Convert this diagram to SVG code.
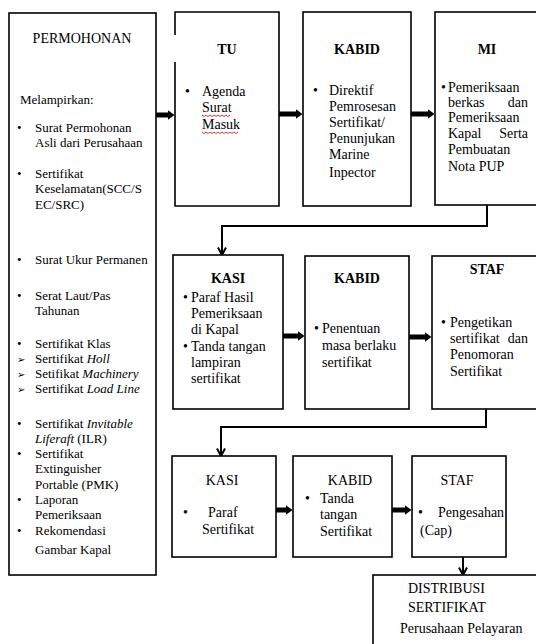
<svg xmlns="http://www.w3.org/2000/svg" width="536" height="644" viewBox="0 0 536 644" font-family="'Liberation Serif', 'DejaVu Serif', serif">
<style>
.box{fill:#fff;stroke:#000;stroke-width:1.6}
text{font-family:'Liberation Serif','DejaVu Serif',serif;fill:#000}
.t{font-size:13px}
.u{font-size:14px}
.h{font-size:14px;font-weight:bold;text-anchor:middle}
.hr{font-size:14px;text-anchor:middle}
.e{text-anchor:end}
.i{font-style:italic}
text.sym{font-family:'DejaVu Sans',sans-serif;font-size:10px}
.thick{stroke:#000;stroke-width:5;fill:none}
.thin{stroke:#000;stroke-width:2;fill:none}
.wave{stroke:#d00;stroke-width:0.8;fill:none}
</style>
<defs>
<marker id="ah" markerUnits="userSpaceOnUse" markerWidth="7" markerHeight="10" viewBox="0 0 7 10" refX="0.5" refY="5" orient="auto">
<path d="M0,0 L7,5 L0,10 z" fill="#000"/>
</marker>
<marker id="vh" markerUnits="userSpaceOnUse" markerWidth="10" markerHeight="10" viewBox="0 0 10 10" refX="8.5" refY="5" orient="auto">
<path d="M1,1 L8.5,5 L1,9" fill="none" stroke="#000" stroke-width="2"/>
</marker>
</defs>
<rect width="536" height="644" fill="#fff"/>

<g id="connectors">
<line class="thick" x1="156" y1="115" x2="168" y2="115" marker-end="url(#ah)"/>
<line class="thick" x1="279" y1="114" x2="296" y2="114" marker-end="url(#ah)"/>
<line class="thick" x1="411" y1="114" x2="428" y2="114" marker-end="url(#ah)"/>
<polyline class="thin" points="487,205 487,226 222,226 222,255" marker-end="url(#vh)"/>
<line class="thick" x1="283" y1="336" x2="298" y2="336" marker-end="url(#ah)"/>
<line class="thick" x1="409" y1="337" x2="425" y2="337" marker-end="url(#ah)"/>
<polyline class="thin" points="486,409 486,427 221,427 221,456" marker-end="url(#vh)"/>
<line class="thick" x1="276" y1="510" x2="286" y2="510" marker-end="url(#ah)"/>
<line class="thick" x1="392" y1="510" x2="405" y2="510" marker-end="url(#ah)"/>
<line class="thin" x1="463" y1="557" x2="463" y2="575" marker-end="url(#vh)"/>
</g>

<g id="permohonan">
<rect class="box" x="9" y="13" width="147" height="562"/>
<text class="hr" x="82" y="43">PERMOHONAN</text>
<text class="t" x="20" y="104">Melampirkan:</text>
<text class="t" x="17" y="132">•</text>
<text class="t" x="35" y="132">Surat Permohonan</text>
<text class="t" x="35" y="147">Asli dari Perusahaan</text>
<text class="t" x="17" y="178">•</text>
<text class="t" x="35" y="178">Sertifikat</text>
<text class="t" x="35" y="193">Keselamatan(SCC/S</text>
<text class="t" x="35" y="209">EC/SRC)</text>
<text class="t" x="17" y="264">•</text>
<text class="t" x="35" y="264">Surat Ukur Permanen</text>
<text class="t" x="17" y="300">•</text>
<text class="t" x="35" y="300">Serat Laut/Pas</text>
<text class="t" x="35" y="315">Tahunan</text>
<text class="t" x="17" y="348">•</text>
<text class="t" x="35" y="348">Sertifikat Klas</text>
<text class="sym" x="17" y="363">➢</text>
<text class="t" x="35" y="363">Sertifikat <tspan class="i">Holl</tspan></text>
<text class="sym" x="17" y="378">➢</text>
<text class="t" x="35" y="378">Setifikat <tspan class="i">Machinery</tspan></text>
<text class="sym" x="17" y="393">➢</text>
<text class="t" x="35" y="393">Sertifikat <tspan class="i">Load Line</tspan></text>
<text class="t" x="17" y="428">•</text>
<text class="t" x="35" y="428">Sertifikat <tspan class="i">Invitable</tspan></text>
<text class="t" x="35" y="443"><tspan class="i">Liferaft</tspan> (ILR)</text>
<text class="t" x="17" y="458">•</text>
<text class="t" x="35" y="458">Sertifikat</text>
<text class="t" x="35" y="473">Extinguisher</text>
<text class="t" x="35" y="489">Portable (PMK)</text>
<text class="t" x="17" y="504">•</text>
<text class="t" x="35" y="504">Laporan</text>
<text class="t" x="35" y="519">Pemeriksaan</text>
<text class="t" x="17" y="535">•</text>
<text class="t" x="35" y="535">Rekomendasi</text>
<text class="t" x="35" y="554">Gambar Kapal</text>
</g>

<g id="tu">
<rect x="175" y="12" width="104" height="194" fill="#fff"/>
<path class="box" d="M175,35 L175,12 L279,12 L279,206 L175,206 L175,62"/>
<text class="h" x="227" y="54">TU</text>
<text class="u" x="185" y="96">•</text>
<text class="u" x="202" y="96">Agenda</text>
<text class="u" x="202" y="112">Surat</text>
<text class="u" x="202" y="129">Masuk</text>
<path class="wave" d="M202,115 l2,1.5 l2,-1.5 l2,1.5 l2,-1.5 l2,1.5 l2,-1.5 l2,1.5 l2,-1.5 l2,1.5 l2,-1.5 l2,1.5 l2,-1.5 l2,1.5 l2,-1.5"/>
<path class="wave" d="M202,132 l2,1.5 l2,-1.5 l2,1.5 l2,-1.5 l2,1.5 l2,-1.5 l2,1.5 l2,-1.5 l2,1.5 l2,-1.5 l2,1.5 l2,-1.5 l2,1.5 l2,-1.5 l2,1.5 l2,-1.5 l2,1.5 l2,-1.5"/>
</g>

<g id="kabid1">
<rect class="box" x="303" y="12" width="108" height="194"/>
<text class="h" x="357" y="54">KABID</text>
<text class="u" x="313" y="95">•</text>
<text class="u" x="329" y="95">Direktif</text>
<text class="u" x="329" y="111">Pemrosesan</text>
<text class="u" x="329" y="127">Sertifikat/</text>
<text class="u" x="329" y="143">Penunjukan</text>
<text class="u" x="329" y="159">Marine</text>
<text class="u" x="329" y="177">Inpector</text>
</g>

<g id="mi">
<rect class="box" x="435" y="12" width="112" height="193"/>
<text class="h" x="487" y="54">MI</text>
<text class="u" x="441" y="92">•</text>
<text class="u" x="448" y="92">Pemeriksaan</text>
<text class="u" x="448" y="107">berkas</text>
<text class="u e" x="528" y="107">dan</text>
<text class="u" x="448" y="122">Pemeriksaan</text>
<text class="u" x="448" y="138">Kapal</text>
<text class="u e" x="528" y="138">Serta</text>
<text class="u" x="448" y="154">Pembuatan</text>
<text class="u" x="448" y="171">Nota PUP</text>
</g>

<g id="kasi2">
<rect class="box" x="173" y="255" width="110" height="154"/>
<text class="h" x="228" y="283">KASI</text>
<text class="u" x="183" y="302">•</text>
<text class="u" x="191" y="302">Paraf Hasil</text>
<text class="u" x="191" y="318">Pemeriksaan</text>
<text class="u" x="191" y="334">di Kapal</text>
<text class="u" x="183" y="351">•</text>
<text class="u" x="191" y="351">Tanda tangan</text>
<text class="u" x="191" y="367">lampiran</text>
<text class="u" x="191" y="383">sertifikat</text>
</g>

<g id="kabid2">
<rect class="box" x="305" y="256" width="104" height="153"/>
<text class="h" x="357" y="283">KABID</text>
<text class="u" x="314" y="333">•</text>
<text class="u" x="322" y="333">Penentuan</text>
<text class="u" x="322" y="350">masa berlaku</text>
<text class="u" x="322" y="367">sertifikat</text>
</g>

<g id="staf2">
<rect class="box" x="432" y="256" width="112" height="153"/>
<text class="h" x="487" y="274">STAF</text>
<text class="u" x="441" y="327">•</text>
<text class="u" x="450" y="327">Pengetikan</text>
<text class="u" x="450" y="343">sertifikat</text>
<text class="u e" x="528" y="343">dan</text>
<text class="u" x="450" y="359">Penomoran</text>
<text class="u" x="450" y="376">Sertifikat</text>
</g>

<g id="kasi3">
<rect class="box" x="172" y="456" width="104" height="101"/>
<text class="hr" x="222" y="485">KASI</text>
<text class="u" x="183" y="517">•</text>
<text class="u" x="208" y="517">Paraf</text>
<text class="u" x="202" y="534">Sertifikat</text>
</g>

<g id="kabid3">
<rect class="box" x="293" y="456" width="99" height="101"/>
<text class="hr" x="350" y="485">KABID</text>
<text class="u" x="305" y="503">•</text>
<text class="u" x="320" y="503">Tanda</text>
<text class="u" x="320" y="519">tangan</text>
<text class="u" x="320" y="536">Sertifikat</text>
</g>

<g id="staf3">
<rect class="box" x="412" y="456" width="94" height="101"/>
<text class="hr" x="457" y="485">STAF</text>
<text class="u" x="418" y="517">•</text>
<text class="u" x="438" y="517">Pengesahan</text>
<text class="u" x="420" y="535">(Cap)</text>
</g>

<g id="distribusi">
<rect class="box" x="373" y="575" width="175" height="80"/>
<text class="u" x="408" y="593">DISTRIBUSI</text>
<text class="u" x="408" y="612">SERTIFIKAT</text>
<text class="u" x="400" y="633">Perusahaan Pelayaran</text>
</g>
</svg>
